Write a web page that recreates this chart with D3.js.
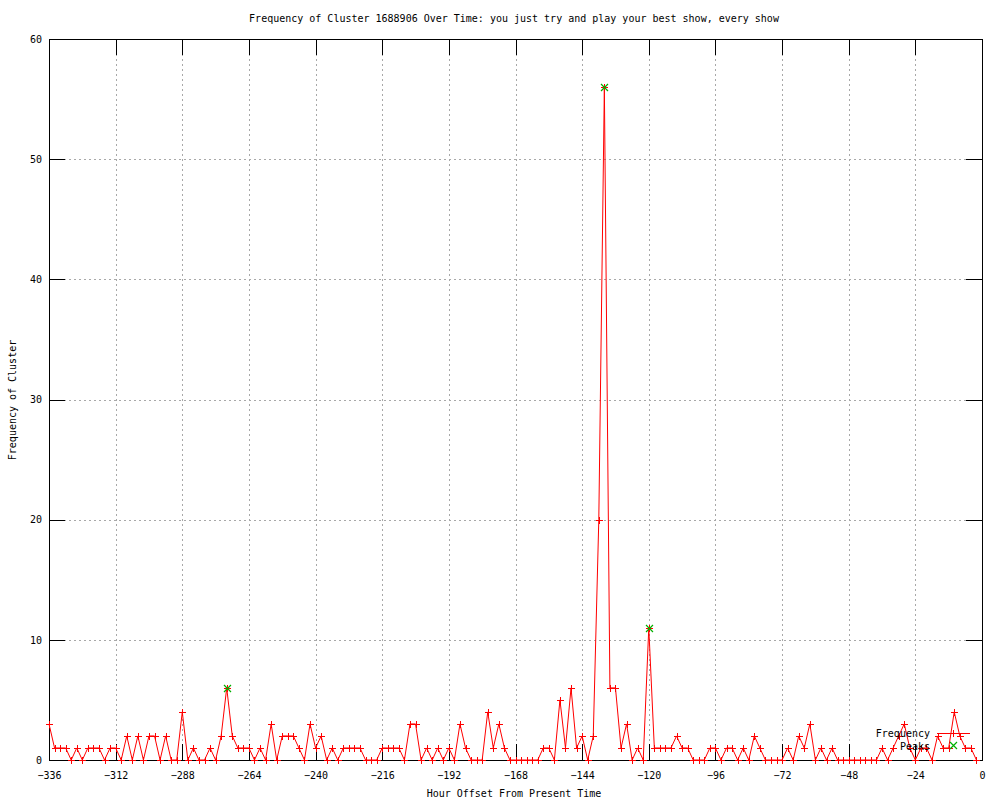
<!DOCTYPE html>
<html>
<head>
<meta charset="utf-8">
<script src="https://cdn.jsdelivr.net/npm/d3@7"></script>
<style>
body { margin: 0; background: #fff; }
svg { display: block; }
text { font-family: "DejaVu Sans Mono", monospace; font-size: 10px; fill: #000; }
</style>
</head>
<body>
<svg width="1000" height="800"></svg>
<script>
// hour offsets: one sample every 2 hours from -336 to 0
const hourOffsets = d3.range(-336, 1, 2);
const frequency = [
    3, 1, 1, 1, 0, 1, 0, 1, 1, 1, 0, 1,
    1, 0, 2, 0, 2, 0, 2, 2, 0, 2, 0, 0,
    4, 0, 1, 0, 0, 1, 0, 2, 6, 2, 1, 1,
    1, 0, 1, 0, 3, 0, 2, 2, 2, 1, 0, 3,
    1, 2, 0, 1, 0, 1, 1, 1, 1, 0, 0, 0,
    1, 1, 1, 1, 0, 3, 3, 0, 1, 0, 1, 0,
    1, 0, 3, 1, 0, 0, 0, 4, 1, 3, 1, 0,
    0, 0, 0, 0, 0, 1, 1, 0, 5, 1, 6, 1,
    2, 0, 2, 20, 56, 6, 6, 1, 3, 0, 1, 0,
    11, 1, 1, 1, 1, 2, 1, 1, 0, 0, 0, 1,
    1, 0, 1, 1, 0, 1, 0, 2, 1, 0, 0, 0,
    0, 1, 0, 2, 1, 3, 0, 1, 0, 1, 0, 0,
    0, 0, 0, 0, 0, 0, 1, 0, 1, 2, 3, 1,
    0, 1, 1, 0, 2, 1, 1, 4, 2, 1, 1, 0
];
const peakHours = [-272, -136, -120];
const peakValues = [6, 56, 11];
const xTicks = [-336, -312, -288, -264, -240, -216, -192, -168, -144, -120, -96, -72, -48, -24, 0];
const yTicks = [0, 10, 20, 30, 40, 50, 60];

const svg = d3.select('svg');
const plotLeft = 49, plotRight = 982, plotTop = 39, plotBottom = 760;
const x = d3.scaleLinear().domain([-336, 0]).range([plotLeft, plotRight]);
const y = d3.scaleLinear().domain([0, 60]).range([plotBottom, plotTop]);
const tickLen = 16;

// grid
const grid = svg.append('g')
    .attr('stroke', '#a8a8a8')
    .attr('stroke-dasharray', '2,3')
    .attr('shape-rendering', 'crispEdges');
grid.selectAll('line.gx')
    .data(xTicks.slice(1, -1))
    .join('line')
    .attr('class', 'gx')
    .attr('x1', d => Math.round(x(d)) + 0.5).attr('x2', d => Math.round(x(d)) + 0.5)
    .attr('y1', plotTop).attr('y2', plotBottom);
grid.selectAll('line.gy')
    .data(yTicks.slice(1, -1))
    .join('line')
    .attr('class', 'gy')
    .attr('y1', d => Math.round(y(d)) + 0.5).attr('y2', d => Math.round(y(d)) + 0.5)
    .attr('x1', plotLeft).attr('x2', plotRight);

// axes, ticks pointing inward like gnuplot
const xAxis = svg.append('g')
    .attr('transform', `translate(0,${plotBottom})`)
    .call(d3.axisBottom(x).tickValues(xTicks).tickSize(-tickLen).tickFormat(d3.format('d')));
xAxis.selectAll('text').attr('y', 19).attr('dy', null);
svg.append('g')
    .attr('transform', `translate(0,${plotTop})`)
    .call(d3.axisTop(x).tickValues(xTicks).tickSize(-tickLen).tickFormat(''));
svg.append('g')
    .attr('transform', `translate(${plotLeft},0)`)
    .call(d3.axisLeft(y).tickValues(yTicks).tickSize(-tickLen).tickPadding(7));
svg.append('g')
    .attr('transform', `translate(${plotRight},0)`)
    .call(d3.axisRight(y).tickValues(yTicks).tickSize(-tickLen).tickFormat(''));
svg.selectAll('.domain').remove();
svg.selectAll('.tick line').attr('stroke', '#000').attr('shape-rendering', 'crispEdges');
svg.selectAll('.tick text')
    .attr('font-family', '"DejaVu Sans Mono", monospace')
    .attr('font-size', 10)
    .attr('fill', '#000');

svg.append('rect')
    .attr('x', plotLeft + 0.5).attr('y', plotTop + 0.5)
    .attr('width', plotRight - plotLeft).attr('height', plotBottom - plotTop)
    .attr('fill', 'none').attr('stroke', '#000')
    .attr('shape-rendering', 'crispEdges');

// frequency series
const points = hourOffsets.map((h, i) => [h, frequency[i]]);
svg.append('path')
    .datum(points)
    .attr('fill', 'none')
    .attr('stroke', '#ff0000')
    .attr('stroke-width', 1)
    .attr('d', d3.line().x(d => x(d[0])).y(d => y(d[1])));

const plus = (cx, cy) => `M${cx - 3.5},${cy}h7M${cx},${cy - 3.5}v7`;
const cross = (cx, cy) => `M${cx - 3.5},${cy - 3.5}l7,7M${cx - 3.5},${cy + 3.5}l7,-7`;

svg.append('g')
    .attr('stroke', '#ff0000')
    .attr('shape-rendering', 'crispEdges')
    .selectAll('path')
    .data(points)
    .join('path')
    .attr('d', d => plus(Math.round(x(d[0])) + 0.5, Math.round(y(d[1])) + 0.5));

// peaks
const peaks = peakHours.map((h, i) => [h, peakValues[i]]);
svg.append('g')
    .attr('stroke', '#00b000')
    .attr('stroke-width', 1.2)
    .selectAll('path')
    .data(peaks)
    .join('path')
    .attr('d', d => cross(Math.round(x(d[0])) + 0.5, Math.round(y(d[1])) + 0.5));

// legend
const legend = svg.append('g');
legend.append('text').attr('x', 930).attr('y', 737).attr('text-anchor', 'end').text('Frequency');
legend.append('text').attr('x', 930).attr('y', 750).attr('text-anchor', 'end').text('Peaks');
legend.append('line')
    .attr('x1', 937).attr('x2', 970).attr('y1', 733.5).attr('y2', 733.5)
    .attr('stroke', '#ff0000').attr('shape-rendering', 'crispEdges');
legend.append('path').attr('d', plus(953.5, 733.5)).attr('stroke', '#ff0000').attr('shape-rendering', 'crispEdges');
legend.append('path').attr('d', cross(953.5, 745.5)).attr('stroke', '#00b000').attr('stroke-width', 1.2);

// titles
svg.append('text')
    .attr('x', 514).attr('y', 22)
    .attr('text-anchor', 'middle')
    .text('Frequency of Cluster 1688906 Over Time: you just try and play your best show, every show');
svg.append('text')
    .attr('x', 514).attr('y', 797)
    .attr('text-anchor', 'middle')
    .text('Hour Offset From Present Time');
svg.append('text')
    .attr('transform', 'translate(16,400) rotate(-90)')
    .attr('text-anchor', 'middle')
    .text('Frequency of Cluster');
</script>
</body>
</html>
